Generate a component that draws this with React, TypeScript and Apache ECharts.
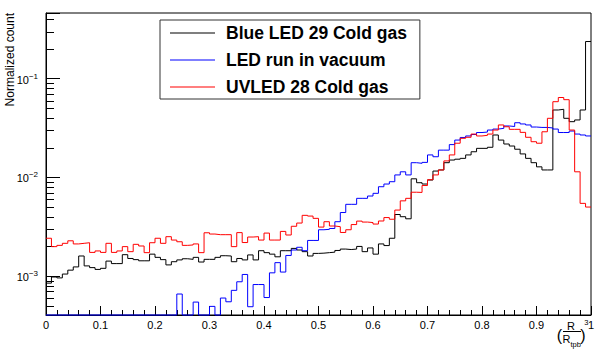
import { useEffect, useRef } from 'react';
import * as echarts from 'echarts';

// ---- data ----
const X_MIN = 0;
const X_MAX = 1;
const BIN_WIDTH = 0.01;
const Y_MIN = 4.04e-4;
const Y_MAX = 0.463;

const SERIES_NAMES = ['Blue LED 29 Cold gas', 'LED run in vacuum', 'UVLED 28 Cold gas'];
const SERIES_COLORS = ['#000000', '#0000ff', '#ff0000'];

// Blue LED 29 Cold gas (black)
const BLACK = [
  8.5e-4, 9.8e-4, 9.6e-4, 1.05e-3, 1.15e-3, 1.24e-3, 1.6e-3, 1.27e-3, 1.22e-3, 1.17e-3,
  1.2e-3, 1.42e-3, 1.34e-3, 1.34e-3, 1.65e-3, 1.51e-3, 1.47e-3, 1.43e-3, 1.43e-3, 1.67e-3,
  1.55e-3, 1.47e-3, 1.3e-3, 1.4e-3, 1.46e-3, 1.5e-3, 1.48e-3, 1.55e-3, 1.39e-3, 1.48e-3,
  1.48e-3, 1.55e-3, 1.61e-3, 1.6e-3, 1.4e-3, 1.51e-3, 1.46e-3, 1.64e-3, 1.46e-3, 1.81e-3,
  1.73e-3, 1.67e-3, 1.57e-3, 1.81e-3, 1.81e-3, 1.91e-3, 1.84e-3, 1.77e-3, 1.6e-3, 1.7e-3,
  1.71e-3, 1.73e-3, 1.75e-3, 1.82e-3, 1.88e-3, 1.86e-3, 1.88e-3, 2.0e-3, 1.77e-3, 1.93e-3,
  1.67e-3, 2.12e-3, 2.04e-3, 2.42e-3, 4.21e-3, 4.0e-3, 3.81e-3, 9.68e-3, 8.84e-3, 8.57e-3,
  9.41e-3, 1.16e-2, 1.19e-2, 1.41e-2, 1.5e-2, 1.53e-2, 1.56e-2, 1.69e-2, 1.82e-2, 1.97e-2,
  1.97e-2, 2.02e-2, 2.69e-2, 2.39e-2, 2.18e-2, 2.08e-2, 1.93e-2, 1.73e-2, 1.56e-2, 1.41e-2,
  1.28e-2, 1.19e-2, 1.19e-2, 4.82e-2, 4.9e-2, 3.97e-2, 3.67e-2, 3.82e-2, 4.82e-2, 0.238,
];

// LED run in vacuum (blue)
const BLUE = [
  0, 0, 0, 0, 0, 0, 0, 0, 0, 0,
  0, 0, 0, 0, 0, 0, 0, 0, 0, 0,
  0, 0, 0, 0, 6.59e-4, 0, 0, 5.46e-4, 0, 0,
  4.94e-4, 0, 6.0e-4, 5.5e-4, 7.18e-4, 8.77e-4, 1.04e-3, 4.9e-4, 8.22e-4, 8.22e-4,
  6.07e-4, 1.08e-3, 1.37e-3, 1.1e-3, 1.62e-3, 1.84e-3, 1.96e-3, 1.81e-3, 2.3e-3, 2.3e-3,
  2.95e-3, 2.98e-3, 3.04e-3, 3.56e-3, 4.41e-3, 5.34e-3, 5.34e-3, 6.14e-3, 6.14e-3, 6.48e-3,
  6.9e-3, 8.05e-3, 8.57e-3, 9.05e-3, 1.06e-2, 1.14e-2, 1.06e-2, 1.41e-2, 1.39e-2, 1.42e-2,
  1.69e-2, 1.62e-2, 1.89e-2, 1.89e-2, 2.15e-2, 2.39e-2, 2.54e-2, 2.63e-2, 2.72e-2, 2.85e-2,
  2.88e-2, 3.02e-2, 3.09e-2, 3.14e-2, 3.32e-2, 3.28e-2, 3.58e-2, 3.48e-2, 3.4e-2, 3.24e-2,
  3.21e-2, 3.21e-2, 3.17e-2, 3.09e-2, 2.85e-2, 2.85e-2, 2.95e-2, 2.75e-2, 2.69e-2, 2.63e-2,
];

// UVLED 28 Cold gas (red)
const RED = [
  2.42e-3, 1.99e-3, 2.05e-3, 2.15e-3, 2.28e-3, 2.12e-3, 2.15e-3, 2.18e-3, 1.74e-3, 1.8e-3,
  1.74e-3, 2.15e-3, 1.74e-3, 1.8e-3, 1.99e-3, 1.77e-3, 2.1e-3, 2.02e-3, 1.73e-3, 2.18e-3,
  2.42e-3, 2.15e-3, 2.51e-3, 2.32e-3, 2.23e-3, 2.05e-3, 2.07e-3, 2.12e-3, 1.73e-3, 2.75e-3,
  2.67e-3, 2.63e-3, 2.63e-3, 2.63e-3, 1.99e-3, 2.76e-3, 2.19e-3, 2.49e-3, 2.51e-3, 2.32e-3,
  2.73e-3, 2.32e-3, 2.32e-3, 2.84e-3, 2.61e-3, 3.2e-3, 3.45e-3, 4.13e-3, 4.06e-3, 3.85e-3,
  3.14e-3, 3.56e-3, 3.22e-3, 3.17e-3, 2.77e-3, 2.95e-3, 3.33e-3, 3.61e-3, 3.53e-3, 3.49e-3,
  3.37e-3, 3.62e-3, 3.92e-3, 3.77e-3, 4.67e-3, 5.79e-3, 6.14e-3, 7.08e-3, 7.05e-3, 8.28e-3,
  9.48e-3, 1.06e-2, 1.19e-2, 1.47e-2, 1.69e-2, 2.22e-2, 2.49e-2, 2.55e-2, 2.75e-2, 2.63e-2,
  2.67e-2, 2.75e-2, 3.02e-2, 3.4e-2, 3.26e-2, 3.07e-2, 3.07e-2, 2.86e-2, 2.55e-2, 2.3e-2,
  2.22e-2, 2.9e-2, 3.97e-2, 5.85e-2, 6.45e-2, 6.13e-2, 3.02e-2, 1.14e-2, 5.46e-3, 5.01e-3,
];

const SERIES_VALUES = [BLACK, BLUE, RED];

const Y_MINOR_TICKS = [
  5e-4, 6e-4, 7e-4, 8e-4, 9e-4,
  2e-3, 3e-3, 4e-3, 5e-3, 6e-3, 7e-3, 8e-3, 9e-3,
  2e-2, 3e-2, 4e-2, 5e-2, 6e-2, 7e-2, 8e-2, 9e-2,
  2e-1, 3e-1, 4e-1,
];

const Y_TITLE = 'Normalized count';

const FONT = "'Liberation Sans', Arial, Helvetica, sans-serif";

function toSteps(values: number[]): number[][] {
  const pts = values.map((v, i) => [Math.round(i * BIN_WIDTH * 1000) / 1000, v > 0 ? v : Y_MIN]);
  const last = values[values.length - 1];
  pts.push([Math.round(values.length * BIN_WIDTH * 1000) / 1000, last > 0 ? last : Y_MIN]);
  return pts;
}

export default function App() {
  const ref = useRef<HTMLDivElement>(null);

  useEffect(() => {
    document.body.style.margin = '0';
    if (!ref.current) return;
    const chart = echarts.init(ref.current, null, { renderer: 'svg' });

    const lineSeries = SERIES_NAMES.map((name, k) => ({
      type: 'line',
      name,
      data: toSteps(SERIES_VALUES[k]),
      step: 'end',
      symbol: 'none',
      showSymbol: false,
      clip: false,
      silent: true,
      z: 3,
      lineStyle: { color: SERIES_COLORS[k], width: 1 },
      itemStyle: { color: SERIES_COLORS[k] },
    }));

    const txt = (text: string, x: number, y: number, fontSize: number, align = 'center') => ({
      type: 'text',
      x,
      y,
      silent: true,
      style: { text, fontSize, fontFamily: FONT, fill: '#000', align, verticalAlign: 'middle' },
    });

    const option: any = {
      animation: false,
      backgroundColor: '#ffffff',
      textStyle: { fontFamily: FONT },
      grid: {
        left: 46,
        right: 18,
        top: 13,
        bottom: 39,
        show: true,
        borderColor: '#000',
        borderWidth: 1,
        backgroundColor: 'transparent',
      },
      legend: {
        orient: 'vertical',
        left: 160,
        top: 20,
        data: SERIES_NAMES.map((name) => ({ name, icon: 'rect' })),
        selectedMode: false,
        itemWidth: 45,
        itemHeight: 1,
        itemGap: 9,
        padding: [4, 13, 3, 10],
        borderColor: '#333',
        borderWidth: 1,
        backgroundColor: '#fff',
        itemStyle: { borderWidth: 0 },
        textStyle: {
          fontSize: 17.5,
          fontWeight: 'bold',
          color: '#000',
          fontFamily: FONT,
          lineHeight: 18,
          padding: [0, 0, 0, 6],
        },
      },
      xAxis: {
        type: 'value',
        min: X_MIN,
        max: X_MAX,
        interval: 0.1,
        axisLine: { show: true, onZero: false, lineStyle: { color: '#000', width: 1 } },
        axisTick: { show: true, inside: true, length: 9, lineStyle: { color: '#000' } },
        minorTick: { show: true, splitNumber: 5, length: 5, lineStyle: { color: '#000' } },
        splitLine: { show: false },
        minorSplitLine: { show: false },
        axisLabel: {
          margin: 4,
          fontSize: 11,
          color: '#000',
          fontFamily: FONT,
          formatter: (v: number) => {
            const r = Math.round(v * 10) / 10;
            if (r === 0) return '0';
            if (r === 1) return '1';
            return r.toFixed(1);
          },
        },
      },
      yAxis: {
        type: 'log',
        logBase: 10,
        min: Y_MIN,
        max: Y_MAX,
        axisLine: { show: true, lineStyle: { color: '#000', width: 1 } },
        axisTick: { show: true, inside: true, length: 14, lineStyle: { color: '#000' } },
        splitLine: { show: false },
        axisLabel: {
          margin: 8,
          color: '#000',
          fontFamily: FONT,
          formatter: (v: number) => {
            const e = Math.log10(v);
            const r = Math.round(e);
            if (Math.abs(e - r) > 1e-6) return '';
            return `{b|10}{s|${r < 0 ? '\u2212' + -r : r}}`;
          },
          rich: {
            b: { fontSize: 11, verticalAlign: 'bottom', lineHeight: 13, fontFamily: FONT, color: '#000' },
            s: { fontSize: 8, verticalAlign: 'top', lineHeight: 13, fontFamily: FONT, color: '#000' },
          },
        },
      },
      series: [
        ...lineSeries,
        {
          type: 'custom',
          name: 'minorTicksY',
          silent: true,
          z: 2,
          data: Y_MINOR_TICKS.map((v) => [X_MIN, v]),
          encode: { x: 0, y: 1 },
          renderItem: (_params: any, api: any) => {
            const p = api.coord([api.value(0), api.value(1)]);
            const y = Math.round(p[1]) + 0.5;
            return {
              type: 'line',
              shape: { x1: p[0], y1: y, x2: p[0] + 8, y2: y },
              style: { stroke: '#000', lineWidth: 1 },
            };
          },
        },
      ],
      graphic: [
        {
          type: 'text',
          x: 10,
          y: 13,
          rotation: Math.PI / 2,
          silent: true,
          style: {
            text: Y_TITLE,
            fontSize: 12,
            fontFamily: FONT,
            fill: '#000',
            align: 'right',
            verticalAlign: 'middle',
          },
        },
        {
          type: 'group',
          silent: true,
          children: [
            txt('(', 559.5, 335, 16),
            txt('R', 571, 326, 11),
            { type: 'line', shape: { x1: 563, y1: 331.5, x2: 581, y2: 331.5 }, style: { stroke: '#000', lineWidth: 1 } },
            txt('R', 566.5, 338.5, 11),
            txt('tpb', 570.5, 344.5, 7.5, 'left'),
            txt(')', 583, 335, 16),
            txt('3', 586.3, 322, 7.5),
          ],
        },
      ],
    };

    chart.setOption(option);
    return () => {
      chart.dispose();
    };
  }, []);

  return <div ref={ref} style={{ width: 609, height: 354 }} />;
}
